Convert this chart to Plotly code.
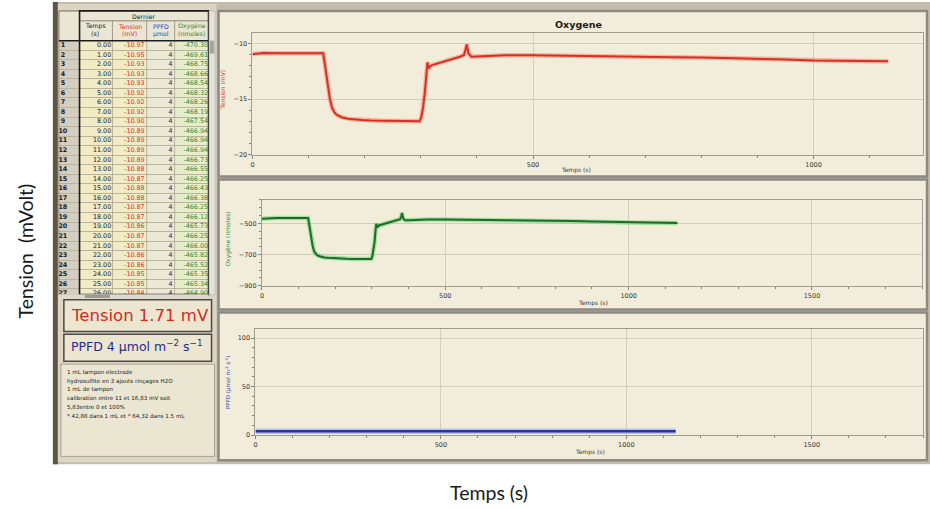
import plotly.graph_objects as go

W, H = 930, 509
FONT = "DejaVu Sans"

# ---------------------------------------------------------------- data
# Recorded run: time (s), electrode tension (mV), oxygen (nmoles)
temps = [0, 20, 40, 60, 80, 100, 120,
         126, 130, 134, 138, 142, 146, 150, 155, 160,
         170, 180, 195, 210, 230, 250, 270, 290,
         298, 301, 304, 307, 310, 312, 314, 316,
         320, 330, 340, 350, 360, 370, 377, 380, 382, 385, 390,
         400, 420, 450, 500, 550, 600, 650, 700, 750, 800, 850, 900, 950,
         1000, 1050, 1100, 1133]
tension = [-10.97, -10.87, -10.88, -10.87, -10.86, -10.87, -10.86,
           -10.88, -12.2, -13.8, -15.0, -15.8, -16.2, -16.4, -16.55, -16.65,
           -16.76, -16.82, -16.88, -16.92, -16.95, -16.97, -17.0, -17.02,
           -17.0, -16.6, -15.8, -14.5, -12.6, -11.7, -12.25, -12.1,
           -11.95, -11.8, -11.65, -11.5, -11.38, -11.2, -11.05, -10.6, -10.1, -10.9, -11.2,
           -11.18, -11.12, -11.08, -11.08, -11.1, -11.12, -11.16, -11.2, -11.24, -11.28, -11.32, -11.38, -11.45,
           -11.55, -11.56, -11.58, -11.6]
oxygene = [-470.3, -466.2, -466.6, -466.2, -465.8, -466.1, -465.7,
           -466.5, -523, -592, -643, -678, -695, -703, -710, -714,
           -719, -721, -724, -725.5, -727, -728, -729, -730,
           -729, -712, -678, -622, -540, -502, -525, -519,
           -512, -506, -500, -493, -488, -480, -474, -455, -433, -467, -480,
           -479.5, -477, -475, -475, -476, -477, -478.5, -480, -482, -483.5, -485.5, -488, -491,
           -495, -495.5, -496.5, -497.5]
ppfd_temps = [0, 1133]
ppfd = [4, 4]

# "Dernier" table (last readings)
table_rows = list(range(1, 28))
table_temps = [0.00, 1.00, 2.00, 3.00, 4.00, 5.00, 6.00, 7.00, 8.00, 9.00, 10.00, 11.00, 12.00,
               13.00, 14.00, 15.00, 16.00, 17.00, 18.00, 19.00, 20.00, 21.00, 22.00, 23.00,
               24.00, 25.00, 26.00]
table_tension = [-10.97, -10.95, -10.93, -10.93, -10.93, -10.92, -10.92, -10.92, -10.90, -10.89,
                 -10.89, -10.89, -10.89, -10.88, -10.87, -10.88, -10.88, -10.87, -10.87, -10.86,
                 -10.87, -10.87, -10.86, -10.86, -10.85, -10.85, -10.84]
table_ppfd = [4, 4, 4, 4, 4, 4, 4, 4, 4, 4, 4, 4, 4, 4, 4, 4, 4, 4, 4, 4, 4, 4, 4, 4, 4, 4, 4]
table_oxygene = [-470.30, -469.61, -468.75, -468.66, -468.54, -468.32, -468.26, -468.19, -467.54,
                 -466.94, -466.94, -466.94, -466.73, -466.55, -466.25, -466.43, -466.38, -466.25,
                 -466.12, -465.73, -466.25, -466.00, -465.82, -465.52, -465.35, -465.34, -464.90]

notes = ["1 mL tampon electrode",
         "hydrosulfite en 3 ajouts rinçages H2O",
         "1 mL de tampon",
         "calibration entre 11 et 16,83 mV soit",
         "5,83entre 0 et 100%",
         "* 42,88 dans 1 mL et * 64,32 dans 1.5 mL"]

RED, GREEN, BLUE = "#d62f26", "#1d6a2c", "#26379a"


def fx(x):
    return x / W


def fy(y):
    return 1 - y / H


fig = go.Figure()


def add_line(x, y, xa, ya, halo, core, wh, wc):
    fig.add_trace(go.Scatter(x=x, y=y, xaxis=xa, yaxis=ya, mode="lines",
                             line=dict(color=halo, width=wh), hoverinfo="skip"))
    fig.add_trace(go.Scatter(x=x, y=y, xaxis=xa, yaxis=ya, mode="lines",
                             line=dict(color=core, width=wc)))


add_line(temps, tension, "x", "y", "rgba(255,130,100,0.55)", RED, 4.5, 2)
add_line(temps, oxygene, "x2", "y2", "rgba(110,215,110,0.6)", GREEN, 4.5, 2)
add_line(ppfd_temps, ppfd, "x3", "y3", "rgba(160,180,240,0.75)", BLUE, 5.5, 2.5)

# table cells as text on their own axes
cell_font = dict(family=FONT, size=6.4)
fig.add_trace(go.Scatter(x=[61] * len(table_rows), y=table_rows, xaxis="x4", yaxis="y4",
                         mode="text", text=[f"<b>{r}</b>" for r in table_rows],
                         textposition="middle center", textfont=dict(cell_font, color="#1a1a1a")))
fig.add_trace(go.Scatter(x=[109.5] * len(table_rows), y=table_rows, xaxis="x4", yaxis="y4",
                         mode="text", text=[f"{v:.2f}" for v in table_temps],
                         textposition="middle left", textfont=dict(cell_font, color="#1a1a1a")))
fig.add_trace(go.Scatter(x=[143] * len(table_rows), y=table_rows, xaxis="x4", yaxis="y4",
                         mode="text", text=[f"{v:.2f}" for v in table_tension],
                         textposition="middle left", textfont=dict(cell_font, color="#d8302a")))
fig.add_trace(go.Scatter(x=[171] * len(table_rows), y=table_rows, xaxis="x4", yaxis="y4",
                         mode="text", text=[f"{v}" for v in table_ppfd],
                         textposition="middle left", textfont=dict(cell_font, color="#2a2a6a")))
fig.add_trace(go.Scatter(x=[206.5] * len(table_rows), y=table_rows, xaxis="x4", yaxis="y4",
                         mode="text", text=[f"{v:.2f}" for v in table_oxygene],
                         textposition="middle left", textfont=dict(cell_font, color="#2f8a3c")))

# ---------------------------------------------------------------- shapes
shapes = []


def rect(x0, y0, x1, y1, fill, line=None, lw=0, layer="below"):
    shapes.append(dict(type="rect", xref="paper", yref="paper",
                       x0=fx(x0), x1=fx(x1), y0=fy(y1), y1=fy(y0),
                       fillcolor=fill, line=dict(color=line or fill, width=lw), layer=layer))


def hline(x0, x1, y, color, lw, layer="above"):
    shapes.append(dict(type="line", xref="paper", yref="paper", x0=fx(x0), x1=fx(x1),
                       y0=fy(y), y1=fy(y), line=dict(color=color, width=lw), layer=layer))


def vline(x, y0, y1, color, lw, layer="above"):
    shapes.append(dict(type="line", xref="paper", yref="paper", x0=fx(x), x1=fx(x),
                       y0=fy(y0), y1=fy(y1), line=dict(color=color, width=lw), layer=layer))


# screen background and left edge
rect(51, 2, 930, 468, "#c4bdab")
rect(51, 2, 56, 468, "#5e5444")
# left column
rect(56, 4, 215, 466, "#dcd5c1")

# table header
rect(57, 11, 207, 41, "#ebe6d4", "#8f8a7a", 0.8)
hline(77.7, 207, 21, "#6f6a5c", 0.8)
for xc in (110.7, 145, 173):
    vline(xc, 21, 41, "#8f8a7a", 0.8)

# table body columns
col_edges = [57, 77.7, 110.7, 145, 173, 207]
col_fill = ["#d3cebf", "#f1ebc6", "#f1ebc6", "#ebe9d6", "#e7ecca"]
for i in range(5):
    shapes.append(dict(type="rect", xref="x4", yref="y4", x0=col_edges[i], x1=col_edges[i + 1],
                       y0=0.5, y1=27.3, fillcolor=col_fill[i], line=dict(width=0), layer="below"))
for xc in (110.7, 145, 173):
    vline(xc, 41, 297, "#a39e88", 0.7)
rect(57, 11, 77.7, 297, "rgba(0,0,0,0)", "#8f8a7a", 1, "above")
rect(77.7, 11, 207, 297, "rgba(0,0,0,0)", "#1c1c1c", 1.6, "above")
hline(57, 207, 41, "#1c1c1c", 1.4)

# scrollbars
rect(207.5, 11, 213.5, 297, "#e4e1d8", "#b5b1a6", 0.6, "above")
rect(208.3, 41, 212.7, 54, "#a9a498", layer="above")
rect(57, 296.5, 207, 301, "#dedad0", layer="above")
rect(83, 297.3, 108, 300.3, "#9e998d", layer="above")

# value boxes and notes
rect(62, 302, 210, 334, "#ece6d0", "#4a4a4a", 1.5)
rect(62, 337, 210, 364, "#ece6d0", "#4a4a4a", 1.5)
rect(59, 367, 213, 460, "#ebe6d2", "#a6a190", 1)

# chart panels
for y0, y1 in ((11, 178), (181, 312), (315, 464)):
    rect(217, y0, 927, y1, "#f2edda", "#8c8985", 2.5)

# ---------------------------------------------------------------- annotations
ann = []


def text(x, y, s, size, color="#222222", xanchor="center", angle=0, family=FONT):
    ann.append(dict(xref="paper", yref="paper", x=fx(x), y=fy(y), text=s, showarrow=False,
                    xanchor=xanchor, yanchor="middle", textangle=angle,
                    font=dict(family=family, size=size, color=color)))


# outer axis titles
text(24, 252.5, "Tension\u00a0 (mVolt)", 19.5, "#1a1a1a", angle=-90, family="Lato")
text(488, 496, "Temps (s)", 19.5, "#1a1a1a", family="Lato")

# chart titles
text(578, 25, "<b>Oxygene</b>", 9.5, "#1a1a1a")
text(575, 171.5, "Temps (s)", 6, "#333333")
text(592, 305, "Temps (s)", 6, "#333333")
text(589, 455.5, "Temps (s)", 6, "#333333")
text(221, 91, "Tension (mV)", 6, "#d8342a", angle=-90)
text(226.5, 241.5, "Oxygène (nmoles)", 6, "#2f8a3c", angle=-90)
text(226.5, 386, "PPFD (µmol m<sup>-2</sup> s<sup>-1</sup>)", 5.5, "#2f3fb0", angle=-90)

# table headers
text(141.7, 16.2, "Dernier", 6.2, "#222222")
for xc, a, b, c in ((93.5, "Temps", "(s)", "#222222"),
                    (128, "Tension", "(mV)", "#d8302a"),
                    (159, "PPFD", "µmol", "#2a3ad0"),
                    (190, "Oxygène", "(nmoles)", "#2f8a3c")):
    text(xc, 26.5, a, 6.2, c)
    text(xc, 34, b, 6.2, c)

# value boxes
text(67, 318, "Tension 1.71 mV", 16.5, "#d42a22", xanchor="left")
text(67, 348.5, "PPFD 4 µmol m<sup>−2</sup> s<sup>−1</sup>", 12.5, "#1f2b8f", xanchor="left")
for i, line in enumerate(notes):
    text(63, 375.7 + i * 8.65, line, 5.6, "#1a1a1a", xanchor="left")

# ---------------------------------------------------------------- axes
tick_font = dict(family=FONT, size=6.5, color="#333333")
base = dict(showgrid=True, gridcolor="#d2cdbb", gridwidth=1, showline=True,
            linecolor="#a19c8b", linewidth=1, mirror=True, ticks="outside", ticklen=3,
            tickcolor="#8a8576", tickfont=tick_font, zeroline=False, fixedrange=True)
minor_x = dict(dtick=100, ticks="outside", ticklen=2, tickcolor="#8a8576", showgrid=False)

fig.update_layout(
    width=W, height=H, margin=dict(l=0, r=0, t=0, b=0),
    paper_bgcolor="white", plot_bgcolor="#f7f3e2", showlegend=False, hovermode=False,
    shapes=shapes, annotations=ann,
    xaxis=dict(base, domain=[fx(251), fx(923)], range=[0, 1195], tick0=0, dtick=500,
               minor=minor_x, anchor="y"),
    yaxis=dict(base, domain=[fy(156), fy(33)], range=[-20, -9.05], tick0=-20, dtick=5,
               minor=dict(dtick=1, ticks="outside", ticklen=2, tickcolor="#8a8576", showgrid=False),
               anchor="x"),
    xaxis2=dict(base, domain=[fx(260.5), fx(922)], range=[0, 1800], tick0=0, dtick=500,
                minor=minor_x, anchor="y2"),
    yaxis2=dict(base, domain=[fy(288), fy(201.5)], range=[-900, -350], tick0=-900, dtick=200,
                minor=dict(dtick=50, ticks="outside", ticklen=2, tickcolor="#8a8576", showgrid=False),
                anchor="x2"),
    xaxis3=dict(base, domain=[fx(254), fx(923)], range=[0, 1800], tick0=0, dtick=500,
                minor=minor_x, anchor="y3"),
    yaxis3=dict(base, domain=[fy(438.5), fy(332)], range=[0, 109], tick0=0, dtick=50,
                minor=dict(dtick=10, ticks="outside", ticklen=2, tickcolor="#8a8576", showgrid=False),
                anchor="x3"),
    xaxis4=dict(domain=[fx(57), fx(207)], range=[57, 207], showgrid=False, showticklabels=False,
                ticks="", showline=False, zeroline=False, fixedrange=True, anchor="y4"),
    yaxis4=dict(domain=[fy(297.9), fy(41)], range=[27.2, 0.5], tickvals=[r + 0.5 for r in table_rows[:-1]],
                showgrid=True, gridcolor="#b9b39e", gridwidth=0.6, showticklabels=False, ticks="",
                showline=False, zeroline=False, fixedrange=True, anchor="x4"),
)

fig.write_html("out.html")
